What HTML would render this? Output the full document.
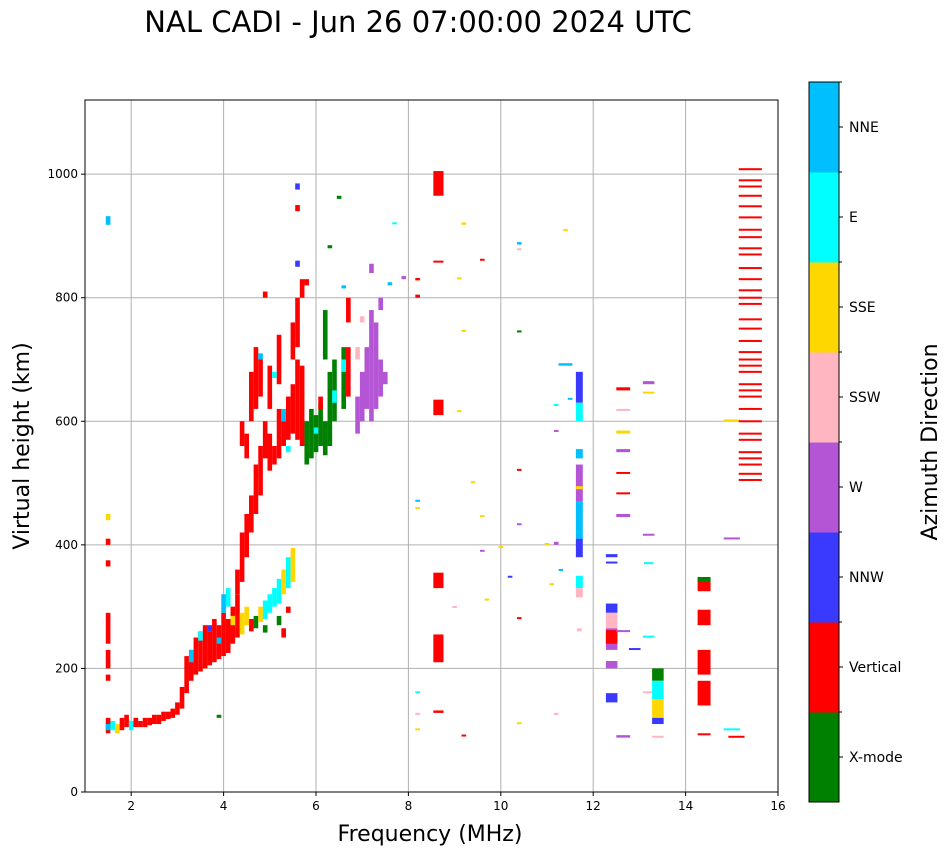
<!DOCTYPE html>
<html><head><meta charset="utf-8"><style>
body{margin:0;background:#fff;font-family:"DejaVu Sans","Liberation Sans",sans-serif}
svg{display:block;font-family:"DejaVu Sans","Liberation Sans",sans-serif}
</style></head><body>
<svg id="chart" width="951" height="856" xmlns="http://www.w3.org/2000/svg">
<text x="418" y="32" text-anchor="middle" font-size="29">NAL CADI - Jun 26 07:00:00 2024 UTC</text>
<g id="grid"></g>
<g id="marks"></g>
<rect x="85" y="100" width="693" height="692" fill="none" stroke="#000" stroke-width="1"/>
<g id="axes"></g>
<text x="430" y="841" text-anchor="middle" font-size="22">Frequency (MHz)</text>
<text transform="translate(29,446) rotate(-90)" text-anchor="middle" font-size="22">Virtual height (km)</text>
<g id="cbar"></g>
<text transform="translate(937,442) rotate(-90)" text-anchor="middle" font-size="22">Azimuth Direction</text>
</svg>
<script>
const dirLabels=["X-mode","Vertical","NNW","W","SSW","SSE","E","NNE"];
const dirColors=["#008000","#ff0000","#3a3aff","#b455d6","#ffb6c1","#ffd700","#00ffff","#00bfff"];
const xTicks=[2,4,6,8,10,12,14,16];
const yTicks=[0,200,400,600,800,1000];
// echoes: [freq MHz, height low km, height high km, direction index, freq width MHz]
const echoes=[
[1.5,95,120,1],[1.5,100,110,7],[1.5,180,190,1],[1.5,200,230,1],[1.5,240,290,1],[1.5,365,375,1],[1.5,400,410,1],[1.5,440,450,5],[1.5,918,932,7],
[1.6,100,115,6],[1.7,95,110,5],[1.8,100,120,1],[1.9,105,125,1],[2.0,100,115,6],[2.1,105,120,1],[2.2,105,115,1],[2.3,105,120,1],[2.4,108,120,1],[2.5,110,125,1],[2.6,110,125,1],[2.7,115,130,1],[2.8,118,130,1],[2.9,120,135,1],[3.0,125,145,1],[3.1,135,170,1],[3.2,160,220,1],[3.3,180,230,1],[3.4,190,250,1],[3.5,195,260,1],[3.6,200,270,1],[3.7,205,260,1],[3.8,210,280,1],[3.9,215,270,1],[4.0,220,290,1],[4.1,225,280,1],[4.2,240,300,1],[4.3,250,320,1],
[3.3,210,230,7],[3.5,245,260,6],[3.7,260,270,2],[3.9,240,250,7],[4.0,290,320,7],[4.1,300,330,6],[4.2,270,285,5],[4.4,255,290,5],[4.5,270,300,5],[4.6,260,280,1],[4.7,265,285,0],[4.8,275,300,5],[4.9,280,310,6],[5.0,290,320,6],[5.1,300,330,6],[5.2,305,345,6],[5.3,320,360,5],[5.4,330,380,6],[5.5,340,395,5],[5.2,270,285,0],[5.4,290,300,1],[5.3,250,265,1],[4.9,258,270,0],[3.9,120,125,0],
[4.3,320,360,1],[4.4,340,420,1],[4.5,380,450,1],[4.6,420,480,1],[4.7,450,530,1],[4.8,480,560,1],[4.5,540,580,1],[4.9,540,600,1],[5.0,520,580,1],[5.1,530,560,1],[5.2,540,620,1],[5.3,560,600,1],[5.4,570,640,1],[5.5,580,660,1],[5.6,570,700,1],[5.7,560,690,1],[4.4,560,600,1],[4.6,600,680,1],[4.7,620,720,1],[4.8,640,700,1],[5.0,620,690,1],[5.2,660,740,1],[5.5,700,760,1],[5.6,720,800,1],[5.7,800,830,1],[5.6,940,950,1],[5.6,975,985,2],[5.8,820,830,1],[4.9,800,810,1],
[5.1,670,680,6],[5.3,600,620,7],[4.8,700,710,7],[5.4,550,560,6],[5.6,850,860,2],
[5.8,530,600,0],[5.9,540,620,0],[6.0,550,610,0],[6.1,560,630,0],[6.2,545,600,0],[6.3,560,680,0],[6.4,600,700,0],[6.2,700,780,0],[6.3,880,885,0],[6.5,960,965,0],[6.0,580,590,6],[6.1,620,640,1],[6.4,630,650,6],[6.6,620,720,0],[6.7,640,720,1],[6.6,680,700,6],[6.7,760,800,1],[6.6,815,820,7],
[6.9,580,640,3],[7.0,600,680,3],[7.1,620,720,3],[7.2,600,780,3],[7.3,620,760,3],[7.4,640,700,3],[7.5,660,680,3],[7.2,840,855,3],[7.4,780,800,3],[7.6,820,825,7],[7.9,830,835,3],[7.7,920,922,6],[7.0,760,770,4],[6.9,700,720,4],
[8.2,800,805,1],[8.2,828,832,1],[8.2,470,473,7],[8.2,458,461,5],[8.2,160,163,6],[8.2,125,128,4],[8.2,100,103,5],
[8.65,210,255,1,0.22],[8.65,330,355,1,0.22],[8.65,610,635,1,0.22],[8.65,965,1005,1,0.22],[8.65,857,860,1,0.22],[8.65,128,132,1,0.22],
[9.2,918,922,5],[9.1,830,833,5],[9.2,745,748,5],[9.1,615,618,5],[9.4,500,503,5],[9.0,298,301,4],[9.2,90,93,1],[9.6,860,863,1],[9.6,445,448,5],[9.6,390,392,3],[9.7,310,313,5],[10.0,395,398,5],[10.2,348,350,2],
[10.4,886,890,7],[10.4,878,880,4],[10.4,745,747,0],[10.4,520,523,1],[10.4,433,435,3],[10.4,280,283,1],[10.4,110,113,5],[11.0,400,403,5],[11.1,335,338,5],[11.2,400,405,3],[11.3,358,361,7],[11.4,908,911,5],[11.2,125,128,4],[11.2,583,586,3],[11.4,690,694,7,0.3],[11.2,625,628,6],[11.5,635,638,7],
[11.7,630,680,2,0.15],[11.7,600,630,6,0.15],[11.7,540,555,7,0.15],[11.7,470,530,3,0.15],[11.7,410,470,7,0.15],[11.7,380,410,2,0.15],[11.7,330,350,6,0.15],[11.7,315,330,4,0.15],[11.7,260,265,4],[11.7,490,495,5,0.15],
[12.4,380,385,2,0.25],[12.4,370,373,2,0.25],[12.4,290,305,2,0.25],[12.4,265,290,4,0.25],[12.4,230,265,3,0.25],[12.4,240,262,1,0.25],[12.4,200,212,3,0.25],[12.4,145,160,2,0.25],
[12.65,650,655,1,0.3],[12.65,618,620,4,0.3],[12.65,580,585,5,0.3],[12.65,550,555,3,0.3],[12.65,515,518,1,0.3],[12.65,482,485,1,0.3],[12.65,445,450,3,0.3],[12.65,260,262,3,0.3],[12.65,88,92,3,0.3],[12.9,230,233,2,0.25],
[13.2,660,665,3,0.25],[13.2,645,648,5,0.25],[13.2,415,418,3,0.25],[13.2,370,372,6,0.2],[13.2,250,253,6,0.25],[13.2,160,163,4,0.25],
[13.4,180,200,0,0.25],[13.4,150,180,6,0.25],[13.4,120,150,5,0.25],[13.4,110,120,2,0.25],[13.4,88,91,4,0.25],
[14.4,325,345,1,0.28],[14.4,270,295,1,0.28],[14.4,190,230,1,0.28],[14.4,140,180,1,0.28],[14.4,92,95,1,0.28],[14.4,340,348,0,0.28],
[15.0,600,603,5,0.35],[15.0,410,412,3,0.35],[15.0,100,103,6,0.35],[15.1,88,91,1,0.35]
];
const lineFreq=15.4;
const lineHeights=[1008,990,980,965,948,930,910,898,880,870,848,830,812,800,790,765,750,730,712,700,690,680,660,650,640,620,600,580,570,550,540,530,515,505];
const NS="http://www.w3.org/2000/svg";
const X0=85,X1=778,Y0=792,Y1=100;
const fx=f=>X0+(f-1)/(16-1)*(X1-X0);
const hy=h=>Y0-h/1120*(Y0-Y1);
function mk(tag,attrs,parent){const e=document.createElementNS(NS,tag);for(const k in attrs)e.setAttribute(k,attrs[k]);parent.appendChild(e);return e;}
const grid=document.getElementById('grid'),axes=document.getElementById('axes'),marks=document.getElementById('marks'),cbar=document.getElementById('cbar');
xTicks.forEach(t=>{const x=fx(t);
 const g=mk('line',{x1:x,x2:x,y1:Y1,y2:Y0,stroke:'#b0b0b0','stroke-width':1},grid);
 
 
 mk('line',{x1:x,x2:x,y1:Y0,y2:Y0+4,stroke:'#000'},axes);
 const tx=mk('text',{x:x,y:Y0+18,'text-anchor':'middle','font-size':12},axes);tx.textContent=t;
 
 
});
yTicks.forEach(t=>{const y=hy(t);
 const g=mk('line',{x1:X0,x2:X1,y1:y,y2:y,stroke:'#b0b0b0','stroke-width':1},grid);
 
 
 mk('line',{x1:X0-4,x2:X0,y1:y,y2:y,stroke:'#000'},axes);
 const tx=mk('text',{x:X0-7,y:y+4,'text-anchor':'end','font-size':12},axes);tx.textContent=t;
 
 
});
echoes.forEach(e=>{const w=e[4]||0.1;
 const x=fx(e[0]-w/2),x2=fx(e[0]+w/2);const yT=hy(e[2]),yB=hy(e[1]);
 const r=mk('rect',{x:x,y:yT,width:Math.max(1,x2-x),height:Math.max(2,yB-yT),fill:dirColors[e[3]]},marks);
 
 
});
lineHeights.forEach(h=>{const x=fx(lineFreq-0.25),x2=fx(lineFreq+0.25);
 const r=mk('rect',{x:x,y:hy(h)-1,width:x2-x,height:2,fill:dirColors[1]},marks);
 
 
});
const CB0=82,CB1=802,CBX=809,CBW=30,band=(CB1-CB0)/dirLabels.length;
dirLabels.forEach((l,i)=>{const yb=CB1-(i+1)*band;
 const r=mk('rect',{x:CBX,y:yb,width:CBW,height:band+0.5,fill:dirColors[i]},cbar);
 
 
 const yc=yb+band/2;
 mk('line',{x1:CBX+CBW,x2:CBX+CBW+4,y1:yc,y2:yc,stroke:'#000'},cbar);
 mk('line',{x1:CBX+CBW,x2:CBX+CBW+3,y1:yb,y2:yb,stroke:'#000'},cbar);
 const tx=mk('text',{x:CBX+CBW+10,y:yc+5,'font-size':14},cbar);tx.textContent=l;
 
 
});
mk('rect',{x:CBX,y:CB0,width:CBW,height:CB1-CB0,fill:'none',stroke:'#000'},cbar);
</script>
</body></html>
